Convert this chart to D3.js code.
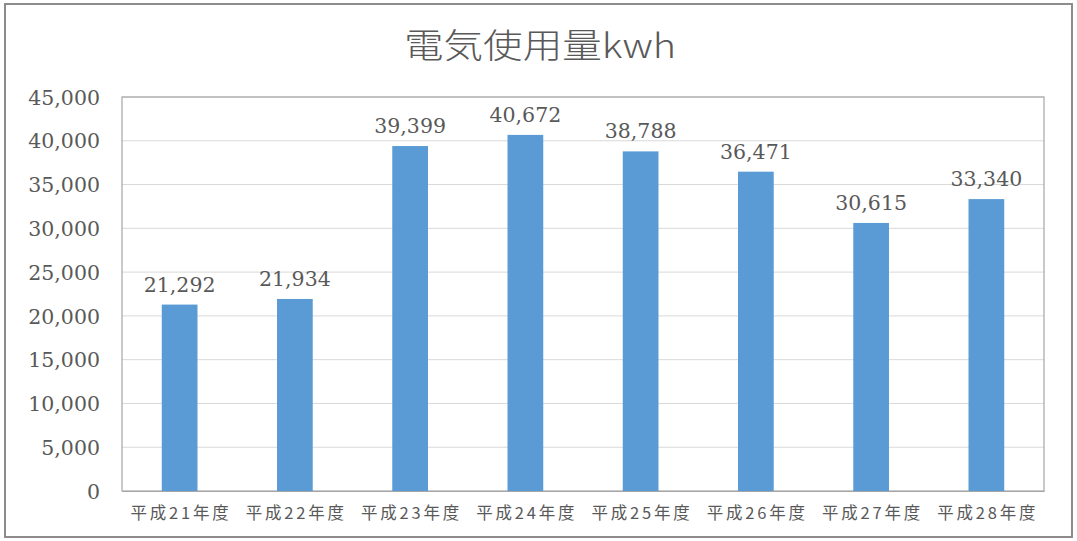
<!DOCTYPE html>
<html>
<head>
<meta charset="utf-8">
<script src="https://cdn.jsdelivr.net/npm/d3@7"></script>
<style>
  html, body { margin: 0; padding: 0; background: #fff; }
  svg { display: block; }
</style>
</head>
<body>
<svg id="chart" width="1077" height="541"></svg>
<script>
// Fiscal years and annual electricity use (kWh)
const categories = ["平成21年度", "平成22年度", "平成23年度", "平成24年度", "平成25年度", "平成26年度", "平成27年度", "平成28年度"];
const usage = [21292, 21934, 39399, 40672, 38788, 36471, 30615, 33340];
const yTicks = [0, 5000, 10000, 15000, 20000, 25000, 30000, 35000, 40000, 45000];
const title = "電気使用量kwh";

const svg = d3.select("#chart");
const W = 1077, H = 541;
const plot = { left: 122, right: 1044, top: 97, bottom: 491 };

const numFont = "'DejaVu Serif', 'Liberation Serif', serif";
const cjkFont = "'Noto Sans CJK JP', 'Noto Sans', sans-serif";

// Outer frame
svg.append("rect")
  .attr("x", 5).attr("y", 4)
  .attr("width", W - 10).attr("height", H - 8)
  .attr("fill", "#fff").attr("stroke", "#8c8c8c").attr("stroke-width", 2);

const x = d3.scaleBand()
  .domain(categories)
  .range([plot.left, plot.right])
  .paddingInner(0.69).paddingOuter(0.345);

const y = d3.scaleLinear()
  .domain([0, 45000])
  .range([plot.bottom, plot.top]);

// Gridlines
svg.append("g")
  .selectAll("line")
  .data(yTicks.slice(1))
  .join("line")
  .attr("x1", plot.left).attr("x2", plot.right)
  .attr("y1", d => y(d)).attr("y2", d => y(d))
  .attr("stroke", "#d9d9d9").attr("stroke-width", 1);

// Plot area border
svg.append("rect")
  .attr("x", plot.left).attr("y", plot.top)
  .attr("width", plot.right - plot.left).attr("height", plot.bottom - plot.top)
  .attr("fill", "none").attr("stroke", "#a6a6a6").attr("stroke-width", 1.2);

// Bars
svg.append("g")
  .selectAll("rect")
  .data(usage)
  .join("rect")
  .attr("x", (d, i) => x(categories[i]))
  .attr("y", d => y(d))
  .attr("width", x.bandwidth())
  .attr("height", d => y(0) - y(d))
  .attr("fill", "#5b9bd5");

// Y axis
const yAxis = d3.axisLeft(y)
  .tickValues(yTicks)
  .tickSize(0)
  .tickPadding(22)
  .tickFormat(d3.format(","));
const gy = svg.append("g")
  .attr("transform", `translate(${plot.left},0)`)
  .call(yAxis);
gy.select(".domain").remove();
gy.selectAll("text")
  .attr("font-family", numFont)
  .attr("font-size", 20.5)
  .attr("fill", "#595959")
  .attr("dy", "0.35em");

// X axis
const xAxis = d3.axisBottom(x).tickSize(0).tickPadding(16);
const gx = svg.append("g")
  .attr("transform", `translate(0,${plot.bottom})`)
  .call(xAxis);
gx.select(".domain").attr("stroke", "#a6a6a6").attr("stroke-width", 1.2);
gx.selectAll("text")
  .attr("font-family", cjkFont)
  .attr("font-size", 16.5)
  .attr("letter-spacing", 2.8)
  .attr("dx", 1.4)
  .attr("fill", "#595959");

// Value labels
svg.append("g")
  .selectAll("text")
  .data(usage)
  .join("text")
  .attr("x", (d, i) => x(categories[i]) + x.bandwidth() / 2)
  .attr("y", d => y(d) - 13)
  .attr("text-anchor", "middle")
  .attr("font-family", numFont)
  .attr("font-size", 20.5)
  .attr("fill", "#595959")
  .text(d => d3.format(",")(d));

// Title
svg.append("text")
  .attr("x", 540).attr("y", 58)
  .attr("text-anchor", "middle")
  .attr("font-family", cjkFont)
  .attr("font-weight", 300)
  .attr("font-size", 34)
  .attr("fill", "#595959")
  .attr("textLength", 272)
  .attr("lengthAdjust", "spacingAndGlyphs")
  .text(title);
</script>
</body>
</html>
